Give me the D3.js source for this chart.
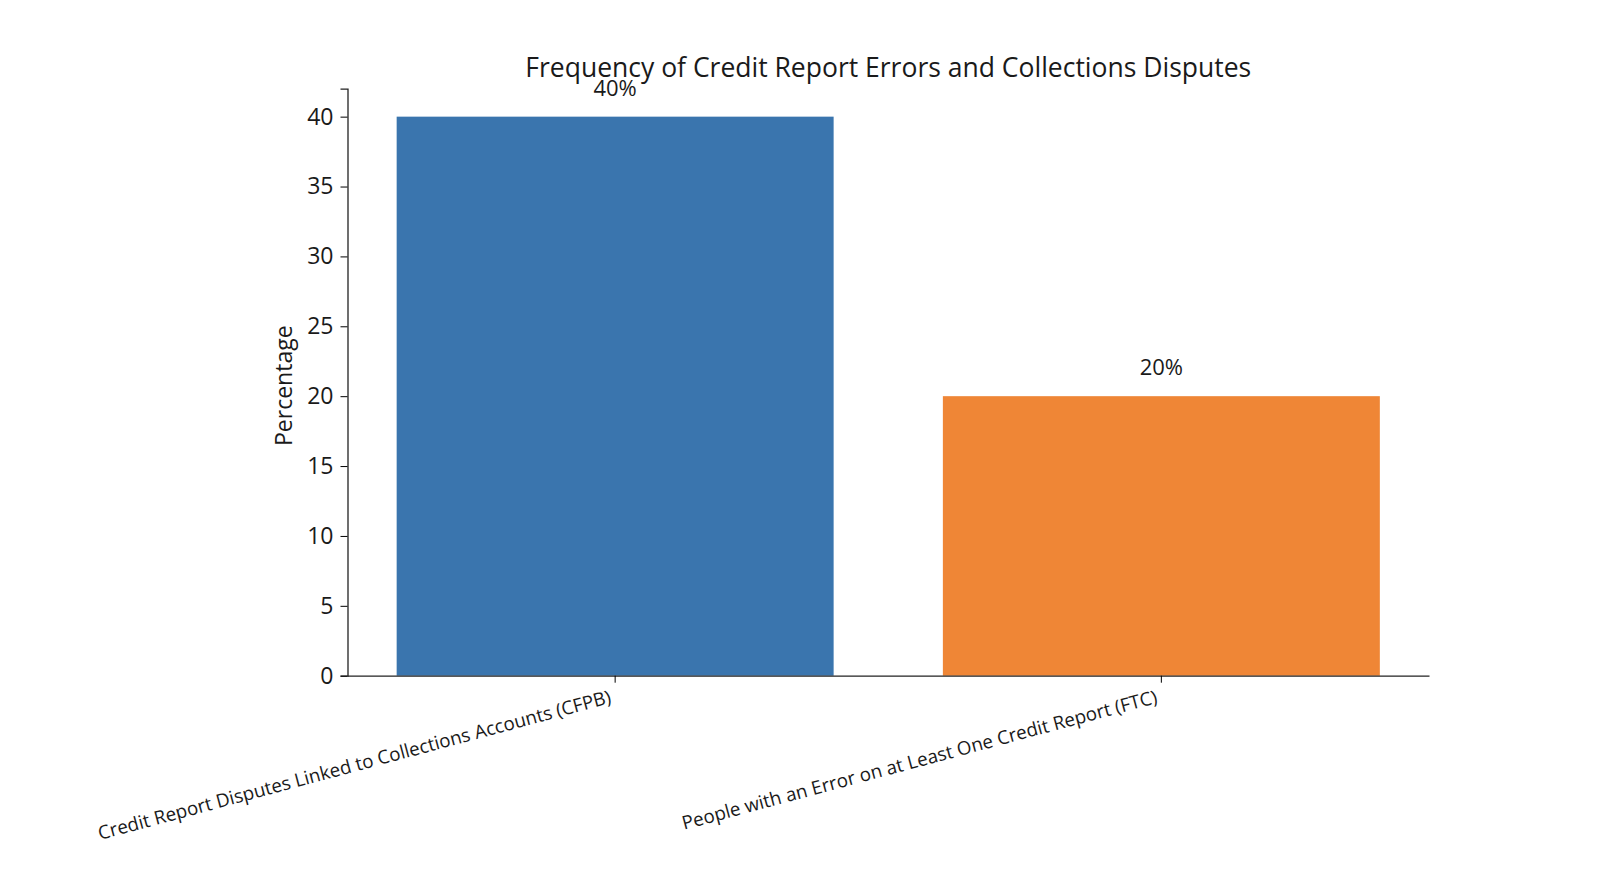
<!DOCTYPE html>
<html>
<head>
<meta charset="utf-8">
<script src="https://cdn.jsdelivr.net/npm/d3@7"></script>
<style>
  body { margin: 0; background: #fff; }
  text { font-family: "Open Sans", sans-serif; fill: #1a1a1a; }
</style>
</head>
<body>
<div id="chart"></div>
<script>
// data
const categories = [
  "Credit Report Disputes Linked to Collections Accounts (CFPB)",
  "People with an Error on at Least One Credit Report (FTC)"
];
const values = [40, 20];
const valueLabels = ["40%", "20%"];
const yTicks = [0, 5, 10, 15, 20, 25, 30, 35, 40];
const barColors = ["#3a75ae", "#ef8636"];

var margin = {top: 88.7, right: 169, bottom: 218.3, left: 347.5},
    width = 1598 - margin.left - margin.right,
    height = 894 - margin.top - margin.bottom;

var svg = d3.select("#chart").append("svg")
    .attr("width", 1598)
    .attr("height", 894)
  .append("g")
    .attr("transform", "translate(" + margin.left + "," + margin.top + ")");

var x = d3.scaleBand()
    .domain(categories)
    .range([0, width])
    .paddingInner(0.2)
    .paddingOuter(0.09);

var y = d3.scaleLinear()
    .domain([0, 42])
    .range([height, 0]);

// bars
svg.selectAll(".bar")
    .data(values)
  .enter().append("rect")
    .attr("class", "bar")
    .attr("x", (d, i) => x(categories[i]))
    .attr("width", x.bandwidth())
    .attr("y", d => y(d))
    .attr("height", d => height - y(d))
    .attr("fill", (d, i) => barColors[i]);

// y axis
var yAxis = svg.append("g")
    .call(d3.axisLeft(y).tickValues(yTicks).tickSize(7).tickPadding(7));
yAxis.selectAll("text").style("font-size", "23px").attr("fill", "#1a1a1a");
yAxis.select(".domain").attr("stroke", "#222").attr("stroke-width", 1.3);

// x axis
var xAxis = svg.append("g")
    .attr("transform", "translate(0," + height + ")")
    .call(d3.axisBottom(x).tickSize(7).tickSizeOuter(0));
xAxis.select(".domain").attr("stroke", "#222").attr("stroke-width", 1.3);
xAxis.selectAll(".tick text")
    .style("font-size", "18.8px")
    .attr("text-anchor", "end")
    .attr("dy", 0)
    .attr("y", 0)
    .attr("transform", "translate(-3,27) rotate(-15)");

// axis label
svg.append("text")
    .attr("text-anchor", "middle")
    .attr("transform", "translate(-56," + y(20.75) + ") rotate(-90)")
    .style("font-size", "23px")
    .text("Percentage");

// title
svg.append("text")
    .attr("x", width / 2)
    .attr("y", -12)
    .attr("text-anchor", "middle")
    .style("font-size", "26.5px")
    .text("Frequency of Credit Report Errors and Collections Disputes");

// value labels
svg.selectAll(".vlabel")
    .data(values)
  .enter().append("text")
    .attr("class", "vlabel")
    .attr("x", (d, i) => x(categories[i]) + x.bandwidth() / 2)
    .attr("y", d => y(d) - 20.8)
    .attr("text-anchor", "middle")
    .style("font-size", "22px")
    .text((d, i) => valueLabels[i]);
</script>
</body>
</html>
